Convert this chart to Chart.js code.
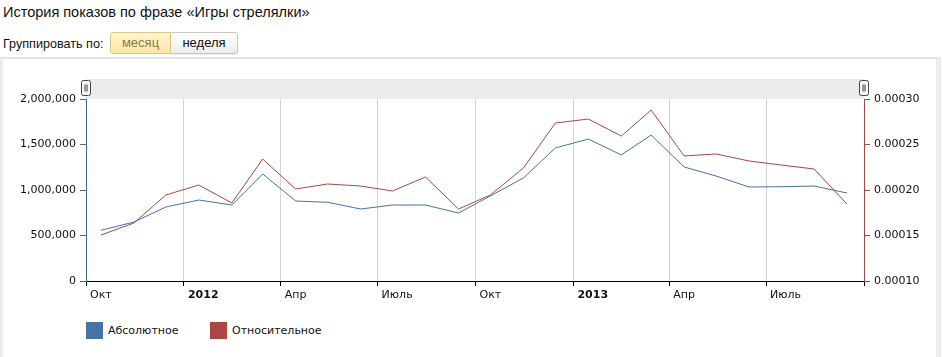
<!DOCTYPE html>
<html>
<head>
<meta charset="utf-8">
<script src="https://cdn.jsdelivr.net/npm/chart.js@4/dist/chart.umd.min.js"></script>
<style>
  html, body { margin: 0; padding: 0; background: #fff; width: 942px; height: 357px; overflow: hidden; }
  body { position: relative; font-family: "Liberation Sans", Arial, sans-serif; color: #000; }
  #title { position: absolute; left: 3px; top: 4px; font-size: 14.5px; white-space: nowrap; color: #111; }
  #group { position: absolute; left: 3px; top: 37px; font-size: 12.6px; white-space: nowrap; color: #111; }
  .btn { position: absolute; top: 32px; height: 22px; box-sizing: border-box; font-size: 13px; line-height: 20px; text-align: center; }
  #b1 { left: 110px; width: 61px; border: 1px solid #d8c68a; border-radius: 3px 0 0 3px;
        background: linear-gradient(#fff6d0, #fbe6a2); color: #8c7a4c; }
  #b2 { left: 171px; width: 67px; border: 1px solid #c8c8c8; border-left: none; border-radius: 0 3px 3px 0;
        background: linear-gradient(#ffffff, #ececec); color: #111; box-shadow: 0 1px 1px rgba(0,0,0,0.08); }
  #frame { position: absolute; left: 0; top: 57px; width: 941px; height: 310px; box-sizing: border-box;
           border-top: 2px solid #e4e4e4; border-left: 3px solid #ececec; border-right: 5px solid #ececec; }
  #wrap { position: absolute; left: 0; top: 60px; width: 942px; height: 240px; }
  #legend { position: absolute; top: 322px; left: 86px; font-family: "DejaVu Sans", Verdana, sans-serif; font-size: 11px; color: #111; }
  .lg { position: absolute; top: 0; white-space: nowrap; }
  .sw { position: absolute; top: 0; width: 17px; height: 17px; }
  .lt { position: absolute; top: 2px; }
</style>
</head>
<body>
<div id="title">История показов по фразе «Игры стрелялки»</div>
<div id="group">Группировать по:</div>
<div class="btn" id="b1">месяц</div>
<div class="btn" id="b2">неделя</div>
<div id="frame"></div>
<div id="wrap"><canvas id="c" width="942" height="240"></canvas></div>
<div id="legend"></div>
<script>
// ---- data ----
const months = ["2011-10","2011-11","2011-12","2012-01","2012-02","2012-03","2012-04","2012-05","2012-06","2012-07","2012-08","2012-09",
                "2012-10","2012-11","2012-12","2013-01","2013-02","2013-03","2013-04","2013-05","2013-06","2013-07","2013-08","2013-09"];
const absoluteValues = [557000, 648000, 813000, 890000, 835000, 1176000, 879000, 865000, 791000, 835000, 835000, 747000,
                        935000, 1132000, 1462000, 1560000, 1385000, 1604000, 1253000, 1154000, 1033000, 1036000, 1044000, 967000];
const relativeValues = [0.0001505, 0.0001637, 0.0001945, 0.0002055, 0.0001857, 0.000234, 0.0002011, 0.0002066, 0.0002044, 0.0001989, 0.0002143, 0.0001791,
                        0.0001945, 0.0002242, 0.0002736, 0.000278, 0.0002593, 0.0002879, 0.0002374, 0.0002396, 0.0002319, 0.0002275, 0.0002231, 0.0001846];
const xTickDates = ["2011-10-01","2012-01-01","2012-04-01","2012-07-01","2012-10-01","2013-01-01","2013-04-01","2013-07-01","2013-10-01"];
const xTickLabels = ["Окт","2012","Апр","Июль","Окт","2013","Апр","Июль",""];
const leftTicks = [0, 500000, 1000000, 1500000, 2000000];
const rightTicks = [0.0001, 0.00015, 0.0002, 0.00025, 0.0003];
const seriesNames = ["Абсолютное", "Относительное"];
const seriesColors = ["#4572a7", "#aa4643"];

// ---- helpers ----
const DAY = 86400000;
const origin = Date.UTC(2011, 9, 1);
function dayOf(str) { const p = str.split("-").map(Number); return (Date.UTC(p[0], p[1]-1, p[2] || 1) - origin) / DAY; }
const xTicks = xTickDates.map(dayOf);
const pointX = months.map(m => dayOf(m + "-15"));
const absData = absoluteValues.map((v, i) => ({x: pointX[i], y: v}));
const relData = relativeValues.map((v, i) => ({x: pointX[i], y: v}));

const TICK_FONT = "'DejaVu Sans', Verdana, sans-serif";

const bandPlugin = {
  id: 'band',
  beforeDraw(chart) {
    const {ctx, chartArea: a} = chart;
    ctx.save();
    ctx.fillStyle = '#ebebeb';
    ctx.fillRect(a.left, a.top - 20, a.right - a.left, 20);
    ctx.restore();
  },
  afterDraw(chart) {
    const {ctx, chartArea: a} = chart;
    ctx.save();
    [a.left, a.right].forEach(x => {
      const hx = Math.round(x) - 4.5, hy = a.top - 18.5, w = 9, h = 15;
      ctx.beginPath();
      if (ctx.roundRect) ctx.roundRect(hx, hy, w, h, 2); else ctx.rect(hx, hy, w, h);
      ctx.fillStyle = '#fafafa'; ctx.fill();
      ctx.strokeStyle = '#444'; ctx.lineWidth = 1; ctx.stroke();
      ctx.beginPath();
      ctx.moveTo(hx + 3.5, hy + 4); ctx.lineTo(hx + 3.5, hy + 11);
      ctx.moveTo(hx + 5.5, hy + 4); ctx.lineTo(hx + 5.5, hy + 11);
      ctx.strokeStyle = '#333'; ctx.stroke();
    });
    ctx.restore();
  }
};

new Chart(document.getElementById('c'), {
  type: 'line',
  data: {
    datasets: [
      { label: seriesNames[0], data: absData, yAxisID: 'yL', borderColor: seriesColors[0], backgroundColor: seriesColors[0],
        borderWidth: 1, pointRadius: 0, tension: 0, fill: false },
      { label: seriesNames[1], data: relData, yAxisID: 'yR', borderColor: seriesColors[1], backgroundColor: seriesColors[1],
        borderWidth: 1, pointRadius: 0, tension: 0, fill: false }
    ]
  },
  options: {
    responsive: false, animation: false, devicePixelRatio: 1,
    layout: { padding: { top: 39, left: 0, right: 0, bottom: 0 } },
    plugins: { legend: { display: false }, tooltip: { enabled: false } },
    scales: {
      x: {
        type: 'linear', min: xTicks[0], max: xTicks[xTicks.length - 1],
        afterBuildTicks(scale) { scale.ticks = xTicks.map(v => ({value: v})); },
        afterFit(scale) { scale.height = 19; },
        ticks: {
          autoSkip: false, maxRotation: 0, align: 'start', labelOffset: 4, padding: 3,
          color: '#111',
          font: (ctx) => ({ family: TICK_FONT, size: 11, weight: (ctx.tick && /^\d{4}$/.test(ctx.tick.label)) ? 'bold' : 'normal' }),
          callback: (v, i) => xTickLabels[i]
        },
        grid: {
          color: (ctx) => (ctx.tick && (ctx.index === 0 || ctx.index === xTicks.length - 1)) ? 'rgba(0,0,0,0)' : '#d4d4d4',
          tickColor: '#000', tickLength: 5, drawTicks: true
        },
        border: { display: true, color: '#000', width: 1 }
      },
      yL: {
        type: 'linear', position: 'left', min: 0, max: 2000000,
        afterBuildTicks(scale) { scale.ticks = leftTicks.map(v => ({value: v})); },
        afterFit(scale) { scale.width = 86; },
        ticks: { color: '#111', padding: 4, font: { family: TICK_FONT, size: 11 },
                 callback: (v) => Number(v).toLocaleString('en-US') },
        grid: { drawOnChartArea: false, drawTicks: true, tickLength: 6, tickColor: '#4a6a90' },
        border: { display: true, color: '#4a6a90', width: 1 }
      },
      yR: {
        type: 'linear', position: 'right', min: 0.0001, max: 0.0003,
        afterBuildTicks(scale) { scale.ticks = rightTicks.map(v => ({value: v})); },
        afterFit(scale) { scale.width = 78; },
        ticks: { color: '#111', padding: 4, font: { family: TICK_FONT, size: 11 },
                 callback: (v) => Number(v).toFixed(5) },
        grid: { drawOnChartArea: false, drawTicks: true, tickLength: 6, tickColor: '#9a4a48' },
        border: { display: true, color: '#9a4a48', width: 1 }
      }
    }
  },
  plugins: [bandPlugin]
});

// legend (HTML, real text)
const lg = document.getElementById('legend');
const offsets = [0, 124];
seriesNames.forEach((name, i) => {
  const d = document.createElement('div');
  d.className = 'lg'; d.style.left = offsets[i] + 'px';
  d.innerHTML = '<div class="sw" style="background:' + seriesColors[i] + '"></div><div class="lt" style="left:22px">' + name + '</div>';
  lg.appendChild(d);
});
</script>
</body>
</html>
